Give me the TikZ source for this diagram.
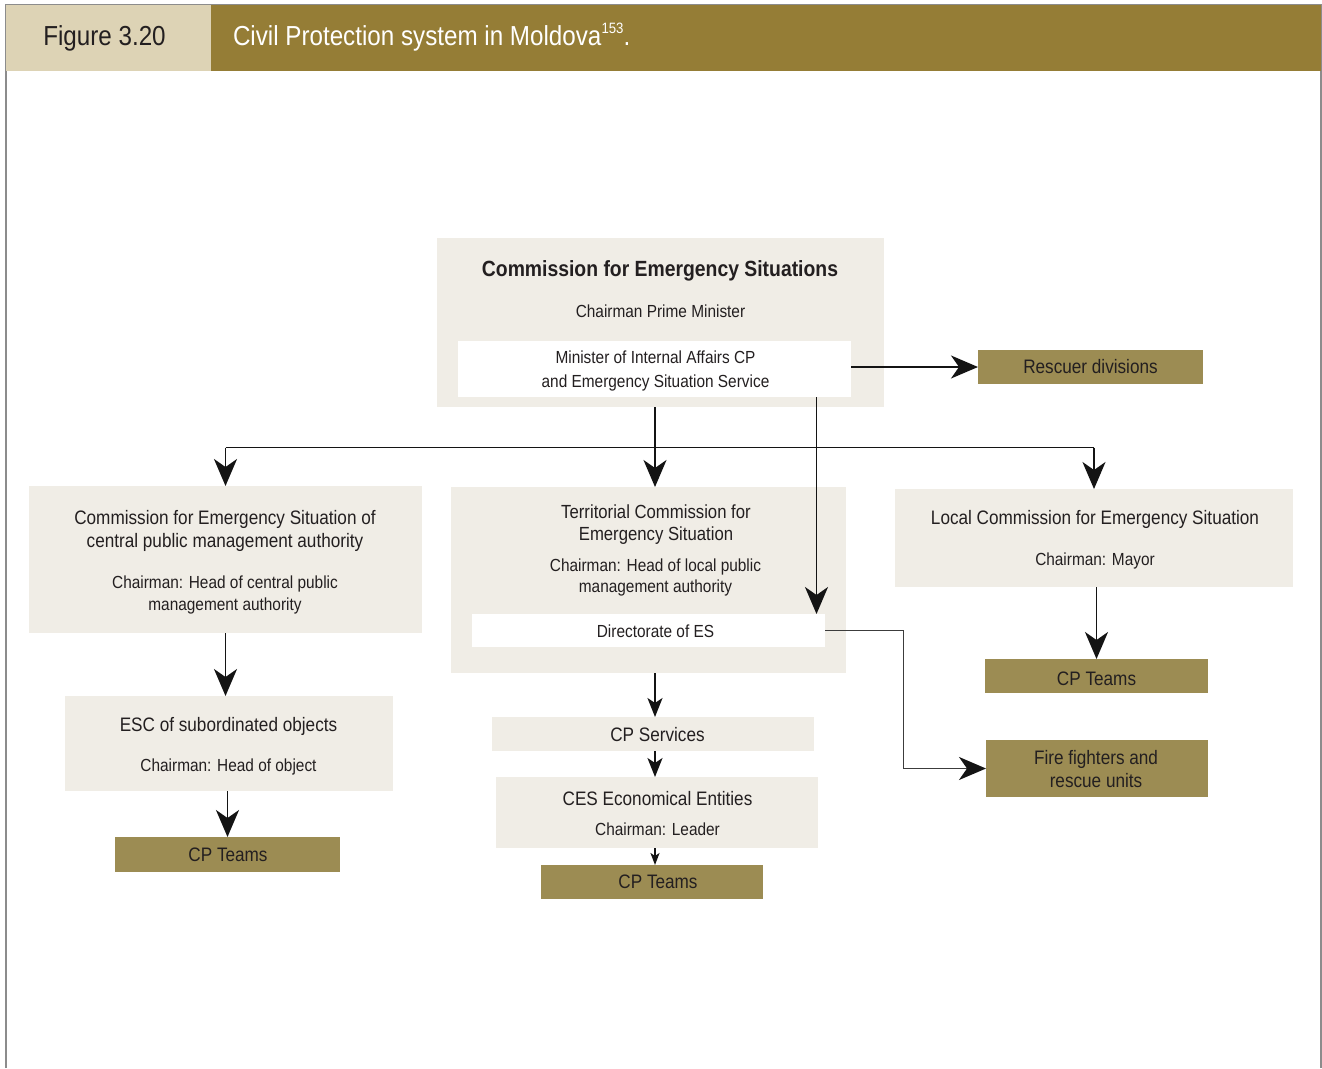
\documentclass[tikz,border=0pt]{standalone}
\usepackage{fontspec}
\setmainfont{Liberation Sans}[FakeStretch=0.88]
\usetikzlibrary{arrows.meta}

\definecolor{ink}{HTML}{231F20}
\definecolor{paper}{HTML}{F0EDE6}
\definecolor{olivebox}{HTML}{9C8C53}
\definecolor{headolive}{HTML}{957D36}
\definecolor{headtan}{HTML}{DDD3B5}
\definecolor{framegrey}{HTML}{8C8C8C}
\definecolor{wiregrey}{HTML}{3C3C3C}

\tikzset{
  panel/.style={fill=paper, draw=none, inner sep=0pt, outer sep=0pt, anchor=north west},
  inset/.style={fill=white, draw=none, inner sep=0pt, outer sep=0pt, anchor=north west},
  unit/.style={fill=olivebox, draw=none, inner sep=0pt, outer sep=0pt, anchor=north west},
  lbl/.style={inner sep=0pt, outer sep=0pt, anchor=base, text=ink},
  big/.style={lbl, font=\fontsize{19.5}{23}\selectfont},
  small/.style={lbl, font=\fontsize{17.5}{21}\selectfont},
  wire/.style={line width=1.9pt, draw=black!92},
  arr/.style={wire, -{Stealth[length=27pt,width=23pt,inset=8pt]}},
  arrs/.style={wire, -{Stealth[length=19pt,width=15pt,inset=5pt]}},
  arrxs/.style={wire, -{Stealth[length=12pt,width=9pt,inset=3pt]}},
  arrg/.style={line width=1.8pt, draw=wiregrey,
               -{Stealth[length=27pt,width=23pt,inset=8pt,color=black!92]}},
}

\begin{document}
\begin{tikzpicture}[x=1pt,y=-1pt]
\useasboundingbox (0,0) rectangle (1322,1068);
\fill[white] (0,0) rectangle (1322,1068);

% page frame and title bar
\draw[framegrey, line width=1.4pt] (6,1068) -- (6,4.7) -- (1321,4.7) -- (1321,1068);
\node[inner sep=0pt, outer sep=0pt, anchor=north west, fill=headtan,
      minimum width=205pt, minimum height=65.4pt] (figbox) at (6,5.3) {};
\node[inner sep=0pt, outer sep=0pt, anchor=north west, fill=headolive,
      minimum width=1110pt, minimum height=65.4pt] (titlebox) at (211,5.3) {};
\node[lbl, font=\fontsize{27.5}{32}\selectfont] (fignum) at (104.5,45) {Figure 3.20};
\node[lbl, anchor=base west, text=white, font=\fontsize{27.5}{32}\selectfont] (figtitle) at (233,45)
  {Civil Protection system in Moldova\raisebox{12pt}{\fontsize{15}{15}\selectfont 153}.};

% boxes
\node[panel, minimum width=447pt, minimum height=169pt] (ces)   at (437,238) {};
\node[inset, minimum width=393pt, minimum height=56pt]  (mia)   at (458,341) {};
\node[unit,  minimum width=225pt, minimum height=34pt]  (rescue) at (978,350) {};
\node[panel, minimum width=393pt, minimum height=147pt] (left)  at (29,486) {};
\node[panel, minimum width=395pt, minimum height=186pt] (terr)  at (451,487) {};
\node[inset, minimum width=353pt, minimum height=33pt]  (dir)   at (472,614) {};
\node[panel, minimum width=398pt, minimum height=98pt]  (local) at (895,489) {};
\node[unit,  minimum width=223pt, minimum height=34pt]  (cpt3)  at (985,659) {};
\node[unit,  minimum width=222pt, minimum height=57pt]  (fire)  at (986,740) {};
\node[panel, minimum width=328pt, minimum height=95pt]  (esc)   at (65,696) {};
\node[unit,  minimum width=225pt, minimum height=35pt]  (cpt1)  at (115,837) {};
\node[panel, minimum width=322pt, minimum height=34pt]  (cps)   at (492,717) {};
\node[panel, minimum width=322pt, minimum height=71pt]  (cese)  at (496,777) {};
\node[unit,  minimum width=222pt, minimum height=34pt]  (cpt2)  at (541,865) {};

% labels
\node[lbl, font=\fontsize{22}{26}\selectfont\bfseries] (cesT) at (660,276.7) {Commission for Emergency Situations};
\node[small] (cesC) at (660.5,317.3) {Chairman Prime Minister};
\node[small] (miaA) at (655.5,363.3) {Minister of Internal Affairs CP};
\node[small] (miaB) at (655.5,387.5) {and Emergency Situation Service};
\node[big] (rescueT) at (1090.5,373.3) {Rescuer divisions};

\node[big] (leftA) at (225,524.3) {Commission for Emergency Situation of};
\node[big] (leftB) at (225,547.2) {central public management authority};
\node[small] (leftC) at (225,588.3) {Chairman: Head of central public};
\node[small] (leftD) at (225,610) {management authority};

\node[lbl, font=\fontsize{19}{23}\selectfont] (terrA) at (656,518.3) {Territorial Commission for};
\node[lbl, font=\fontsize{19}{23}\selectfont] (terrB) at (656,540.5) {Emergency Situation};
\node[small] (terrC) at (655.5,571.7) {Chairman: Head of local public};
\node[small] (terrD) at (655.5,592.5) {management authority};
\node[small] (dirT) at (655.5,637.3) {Directorate of ES};

\node[big] (localA) at (1095,524.3) {Local Commission for Emergency Situation};
\node[small] (localB) at (1095,565.5) {Chairman: Mayor};
\node[big] (cpt3T) at (1096.5,685) {CP Teams};
\node[big] (fireA) at (1096,764.3) {Fire fighters and};
\node[big] (fireB) at (1096,787.3) {rescue units};

\node[big] (escA) at (228.5,731.5) {ESC of subordinated objects};
\node[small] (escB) at (228.5,771.7) {Chairman: Head of object};
\node[big] (cpt1T) at (228,861.7) {CP Teams};

\node[big] (cpsT) at (657.5,741.7) {CP Services};
\node[big] (ceseA) at (657.5,805) {CES Economical Entities};
\node[small] (ceseB) at (657.5,835) {Chairman: Leader};
\node[big] (cpt2T) at (658,888.8) {CP Teams};

% connectors
\coordinate (axis) at (655,0);
\coordinate (bus) at (655,447.5);
\coordinate (drop) at (816.5,397);
\coordinate (elbow) at (903.5,630.5);

\draw[arr] (rescue.west -| mia.east) -- (rescue.west);
\draw[arr] (ces.south -| axis) -- (terr.north -| axis);
\draw[wire] (bus -| left.north) -- (bus -| local.north);
\draw[arr] (bus -| left.north) -- (left.north);
\draw[arr] (bus -| local.north) -- (local.north);
\draw[arr] (drop) -- (drop |- dir.north);
\draw[arrg] (dir.east) -- (elbow) |- (fire.west);

\draw[arr] (left.south) -- (left.south |- esc.north);
\draw[arr] (esc.south -| cpt1.north) -- (cpt1.north);

\draw[arrs] (terr.south -| axis) -- (cps.north -| axis);
\draw[arrs] (cps.south -| axis) -- (cese.north -| axis);
\draw[arrxs] (cese.south -| axis) -- (cpt2.north -| axis);

\draw[arr] (local.south -| cpt3.north) -- (cpt3.north);
\end{tikzpicture}
\end{document}
